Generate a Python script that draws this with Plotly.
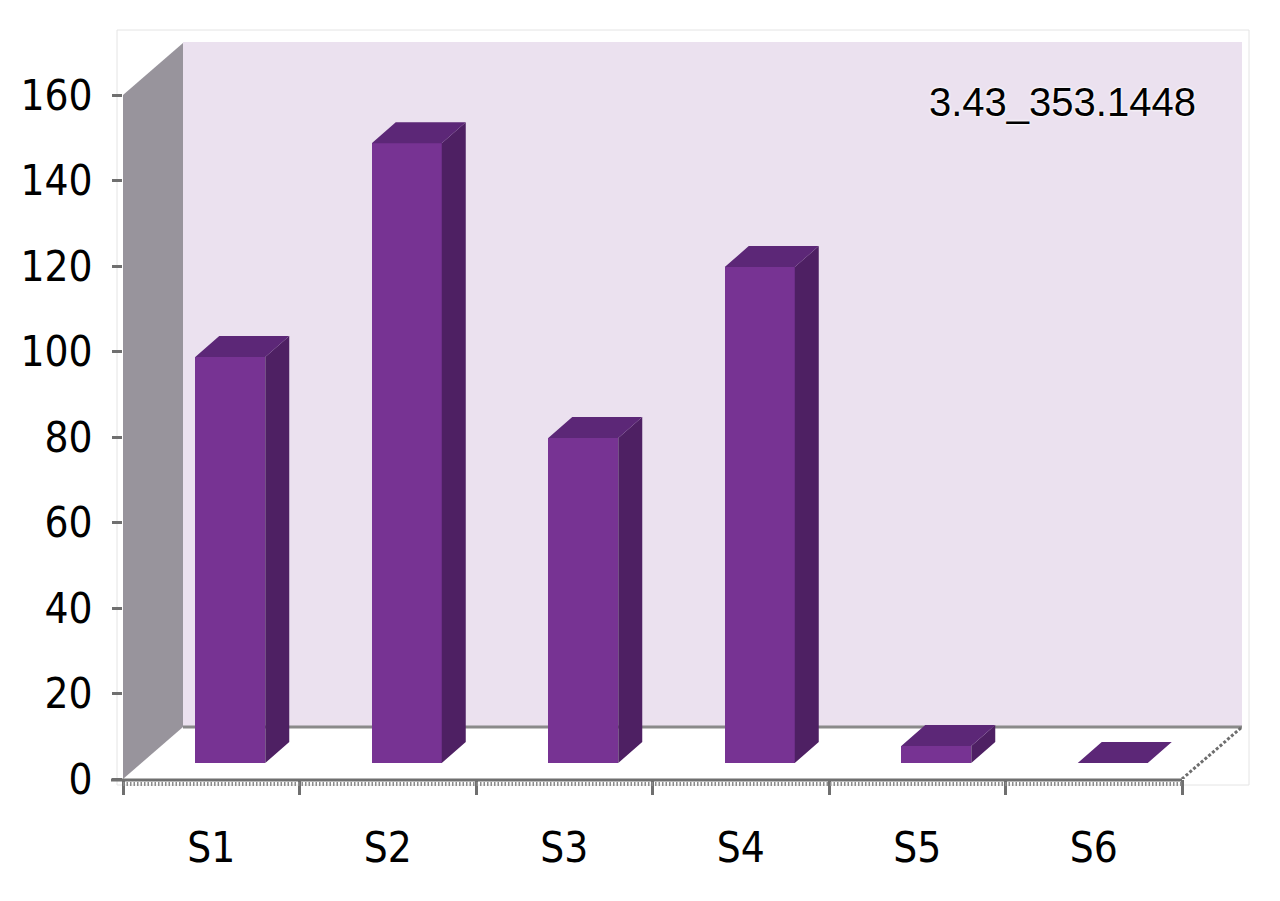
import plotly.graph_objects as go

# ---------------- data ----------------
categories = ["S1", "S2", "S3", "S4", "S5", "S6"]
values = [95, 145, 76, 116, 4, 0]
y_ticks = [0, 20, 40, 60, 80, 100, 120, 140, 160]
label_text = "3.43_353.1448"

# ---------------- geometry (pixel based, screen coords) ----------------
OFF = 8                 # page body margin
W, H = 1280 - 2 * OFF, 901 - 2 * OFF
ML, MT = 123 - OFF, 42 - OFF
AXIS_PY = 779
PX_CAT = 176.5          # pixels per category
PX_UNIT = 4.275         # pixels per value unit
n = len(categories)

WX, WY = 60 / PX_CAT, 52 / PX_UNIT     # wall depth offset
BX, BY = 19 / PX_CAT, 16 / PX_UNIT     # bar front-plane offset
DX, DY = 24 / PX_CAT, 21 / PX_UNIT     # bar depth
BW = 70 / PX_CAT                       # bar width

x_min, x_max = -0.5, n - 0.5 + WX
plot_w = (x_max - x_min) * PX_CAT
MR = W - ML - plot_w
MB = H - (AXIS_PY - OFF)
y_max = (AXIS_PY - 42) / PX_UNIT


def px_to_paper_x(px):
    return (px - 123) / plot_w


def py_to_paper_y(py):
    return (AXIS_PY - py) / (AXIS_PY - 42)


x_end_paper = (n - x_min - 0.5) / (x_max - x_min)  # paper x of last boundary

FRONT = "#773393"
SIDE = "#4E2063"
TOP = "#5C2777"
WALL = "#EBE1EF"
SIDEWALL = "#98949C"
AX = "#6F6F6F"
FONT_AX = "Liberation Sans Narrow, DejaVu Sans Condensed, Arial Narrow, sans-serif"

fig = go.Figure()

# front faces as bars
xc = [i + BX for i in range(n)]
fig.add_trace(go.Bar(
    x=xc, y=values, base=[BY] * n, width=BW,
    marker=dict(color=FRONT, line=dict(width=0)),
    showlegend=False, hoverinfo="skip",
))

# side faces & top faces computed from the values
sx, sy, tx, ty = [], [], [], []
for c, v in zip(xc, values):
    xl, xr = c - BW / 2, c + BW / 2
    b, t = BY, BY + v
    sx += [xr, xr + DX, xr + DX, xr, xr, None]
    sy += [b, b + DY, t + DY, t, b, None]
    tx += [xl, xl + DX, xr + DX, xr, xl, None]
    ty += [t, t + DY, t + DY, t, t, None]

fig.add_trace(go.Scatter(x=sx, y=sy, mode="lines", fill="toself", fillcolor=SIDE,
                         line=dict(width=0, color=SIDE), showlegend=False, hoverinfo="skip"))
fig.add_trace(go.Scatter(x=tx, y=ty, mode="lines", fill="toself", fillcolor=TOP,
                         line=dict(width=0, color=TOP), showlegend=False, hoverinfo="skip"))

shapes = []
# back wall
shapes.append(dict(type="rect", xref="x", yref="y", x0=x_min + WX, x1=x_max, y0=WY, y1=y_max,
                   fillcolor=WALL, line=dict(width=0), layer="below"))
# side wall
yt = y_ticks[-1]
shapes.append(dict(type="path", xref="x", yref="y",
                   path=f"M {x_min},0 L {x_min},{yt} L {x_min + WX},{yt + WY} L {x_min + WX},{WY} Z",
                   fillcolor=SIDEWALL, line=dict(width=0), layer="below"))
# floor back line
shapes.append(dict(type="line", xref="x", yref="y", x0=x_min + WX, x1=x_max, y0=WY, y1=WY,
                   line=dict(color="#8A8A8A", width=3), layer="below"))
# floor right edge
shapes.append(dict(type="line", xref="x", yref="y", x0=n - 0.5, y0=0, x1=x_max, y1=WY,
                   line=dict(color="#6E6E6E", width=3, dash="3px,2px"), layer="below"))
# x axis line
shapes.append(dict(type="line", xref="paper", yref="paper", x0=px_to_paper_x(111), x1=x_end_paper,
                   y0=py_to_paper_y(780), y1=py_to_paper_y(780), line=dict(color=AX, width=3)))
# ruler minor ticks
shapes.append(dict(type="line", xref="paper", yref="paper", x0=0, x1=x_end_paper,
                   y0=py_to_paper_y(784), y1=py_to_paper_y(784),
                   line=dict(color="#8C8C8C", width=4, dash="1.5px,2px")))
# outer chart border
shapes.append(dict(type="rect", xref="paper", yref="paper",
                   x0=px_to_paper_x(117), x1=px_to_paper_x(1249),
                   y0=py_to_paper_y(785), y1=py_to_paper_y(30),
                   line=dict(color="#E4E4E4", width=1), fillcolor="rgba(0,0,0,0)", layer="below"))

fig.update_layout(
    width=W, height=H,
    margin=dict(l=ML, r=MR, t=MT, b=MB, pad=0, autoexpand=False),
    paper_bgcolor="white", plot_bgcolor="white",
    shapes=shapes,
    showlegend=False,
    bargap=0,
    xaxis=dict(
        range=[x_min, x_max], fixedrange=True, automargin=False,
        tickmode="array", tickvals=list(range(n)), ticktext=categories,
        ticks="", showgrid=False, zeroline=False, showline=False,
        tickfont=dict(family=FONT_AX, size=42, color="black"),
        ticklabelstandoff=40,
        minor=dict(tickmode="array", tickvals=[i - 0.5 for i in range(n + 1)],
                   ticks="outside", ticklen=15, tickwidth=3, tickcolor=AX, showgrid=False),
    ),
    yaxis=dict(
        range=[0, y_max], fixedrange=True, automargin=False,
        tickmode="array", tickvals=y_ticks,
        ticks="outside", ticklen=10, tickwidth=3, tickcolor=AX,
        showgrid=False, zeroline=False, showline=False,
        tickfont=dict(family=FONT_AX, size=42, color="black"),
        ticklabelstandoff=11,
    ),
    annotations=[dict(
        text=label_text, xref="paper", yref="paper",
        x=px_to_paper_x(1062), y=py_to_paper_y(102),
        xanchor="center", yanchor="middle", showarrow=False,
        font=dict(family="Liberation Sans, Arial, sans-serif", size=40, color="black",
                  shadow="0px 0px 3px white, 0px 0px 3px white"),
    )],
)

fig.write_html("out.html")
